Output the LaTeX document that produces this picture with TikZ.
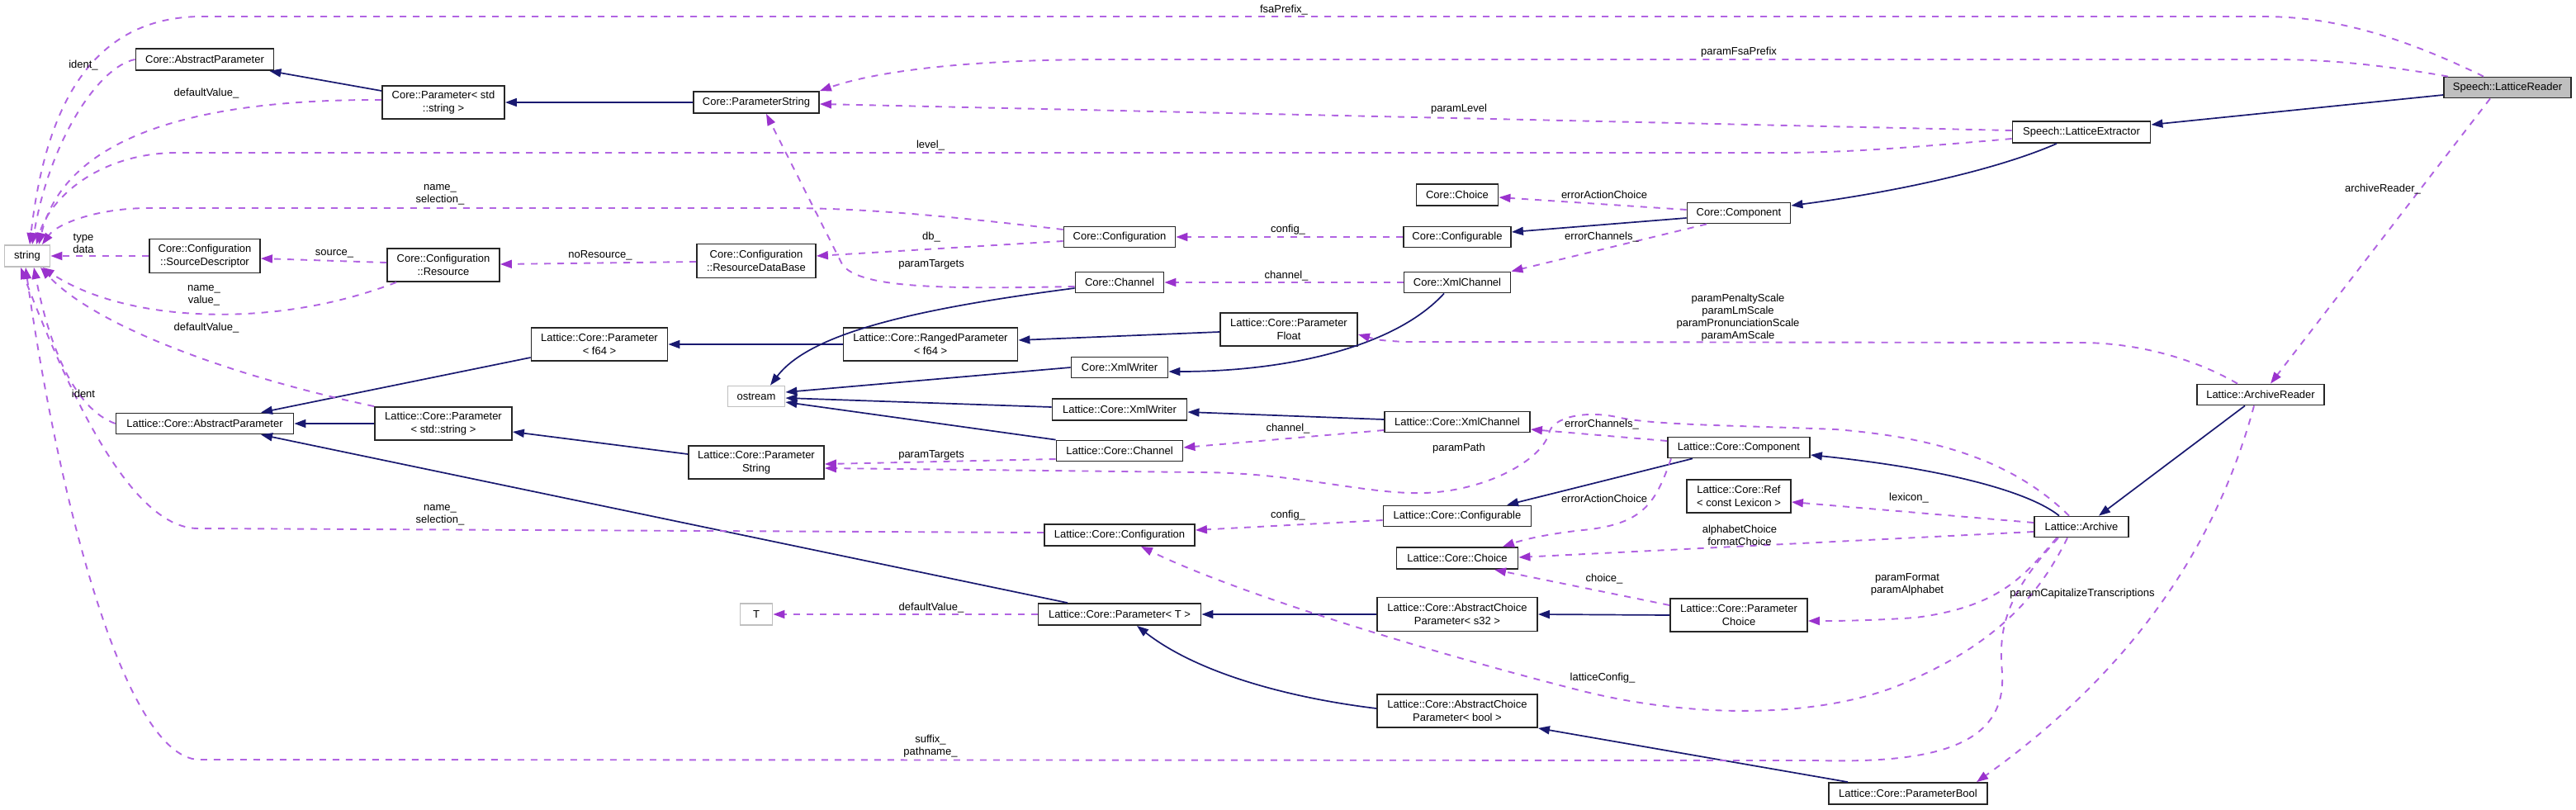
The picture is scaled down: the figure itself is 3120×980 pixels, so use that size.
\documentclass[tikz,border=0pt]{standalone}
\usepackage{fontspec}
\setmainfont{Liberation Sans}
\usetikzlibrary{arrows.meta}
\definecolor{inhc}{HTML}{191970}
\definecolor{usec}{HTML}{9A32CD}
\definecolor{usel}{HTML}{B164E2}
\definecolor{grayb}{HTML}{BFBFBF}
\begin{document}
\begin{tikzpicture}[x=1pt,y=-1pt,
 cls/.style={draw=black!85, line width=1.8pt, fill=white, inner sep=0pt, align=center, font=\fontsize{13}{15.5}\selectfont},
 ext/.style={cls, draw=grayb},
 cur/.style={cls, fill=grayb},
 lbl/.style={inner sep=0pt, align=center, font=\fontsize{13}{15}\selectfont},
 inh/.style={draw=inhc, line width=1.7pt, -{Triangle[length=14pt,width=10pt]}},
 use/.style={draw=usel, line width=1.9pt, dash pattern=on 8pt off 8pt, -{Triangle[length=14pt,width=10pt,color=usec]}},
]
\fill[white] (0,0) rectangle (3120,980);
\useasboundingbox (0,0) rectangle (3120,980);

% ---------- nodes ----------
\node[ext, minimum width=55, minimum height=26] (str) at (33,310) {string};
\node[cls, minimum width=167, minimum height=26] (cap) at (248,72) {Core::AbstractParameter};
\node[cls, minimum width=148, minimum height=40] (cps) at (537,124) {Core::Parameter< std\\::string >};
\node[cls, minimum width=134, minimum height=41] (csd) at (248,310) {Core::Configuration\\::SourceDescriptor};
\node[cls, minimum width=136, minimum height=40] (cres) at (537,321) {Core::Configuration\\::Resource};
\node[cls, minimum width=152, minimum height=26] (cpstr) at (916,124) {Core::ParameterString};
\node[cls, minimum width=144, minimum height=41] (crdb) at (916,316) {Core::Configuration\\::ResourceDataBase};
\node[cls, minimum width=135, minimum height=25] (cconf) at (1356,287) {Core::Configuration};
\node[cls, minimum width=107, minimum height=25] (cchan) at (1356,342) {Core::Channel};
\node[cls, minimum width=211, minimum height=40] (lrp) at (1127,417) {Lattice::Core::RangedParameter\\< f64 >};
\node[cls, minimum width=165, minimum height=40] (lpf64) at (726,417) {Lattice::Core::Parameter\\< f64 >};
\node[cls, minimum width=166, minimum height=40] (lpfl) at (1561,399) {Lattice::Core::Parameter\\Float};
\node[cls, minimum width=117, minimum height=25] (cxw) at (1356,445) {Core::XmlWriter};
\node[ext, minimum width=69, minimum height=25] (ost) at (916,480) {ostream};
\node[cls, minimum width=163, minimum height=26] (lxw) at (1356,496) {Lattice::Core::XmlWriter};
\node[cls, minimum width=99, minimum height=26] (cchoice) at (1765,236) {Core::Choice};
\node[cls, minimum width=125, minimum height=25] (ccomp) at (2106,258) {Core::Component};
\node[cls, minimum width=130, minimum height=25] (ccfg) at (1765,287) {Core::Configurable};
\node[cls, minimum width=129, minimum height=25] (cxc) at (1765,342) {Core::XmlChannel};
\node[cur, minimum width=154, minimum height=25] (slr) at (3037,106) {Speech::LatticeReader};
\node[cls, minimum width=167, minimum height=26] (sle) at (2521,160) {Speech::LatticeExtractor};
\node[cls, minimum width=154, minimum height=25] (lar) at (2738,478) {Lattice::ArchiveReader};
\node[cls, minimum width=215, minimum height=25] (lap) at (248,513) {Lattice::Core::AbstractParameter};
\node[cls, minimum width=166, minimum height=40] (lps) at (537,513) {Lattice::Core::Parameter\\< std::string >};
\node[cls, minimum width=153, minimum height=25] (lchan) at (1356,546) {Lattice::Core::Channel};
\node[cls, minimum width=164, minimum height=40] (lpstr) at (916,560) {Lattice::Core::Parameter\\String};
\node[cls, minimum width=182, minimum height=26] (lconf) at (1356,648) {Lattice::Core::Configuration};
\node[ext, minimum width=39, minimum height=26] (tt) at (916,744) {T};
\node[cls, minimum width=197, minimum height=26] (lpt) at (1356,744) {Lattice::Core::Parameter< T >};
\node[cls, minimum width=176, minimum height=25] (lxc) at (1765,511) {Lattice::Core::XmlChannel};
\node[cls, minimum width=172, minimum height=25] (lcomp) at (2106,542) {Lattice::Core::Component};
\node[cls, minimum width=126, minimum height=40] (lref) at (2106,601) {Lattice::Core::Ref\\< const Lexicon >};
\node[cls, minimum width=179, minimum height=25] (lcfg) at (1765,625) {Lattice::Core::Configurable};
\node[cls, minimum width=147, minimum height=26] (lchoice) at (1765,676) {Lattice::Core::Choice};
\node[cls, minimum width=194, minimum height=41] (lacs) at (1765,744) {Lattice::Core::AbstractChoice\\Parameter< s32 >};
\node[cls, minimum width=166, minimum height=40] (lpc) at (2106,745) {Lattice::Core::Parameter\\Choice};
\node[cls, minimum width=194, minimum height=40] (lacb) at (1765,861) {Lattice::Core::AbstractChoice\\Parameter< bool >};
\node[cls, minimum width=192, minimum height=26] (lpb) at (2311,961) {Lattice::Core::ParameterBool};
\node[cls, minimum width=114, minimum height=25] (larc) at (2521,638) {Lattice::Archive};

% ---------- inheritance edges ----------
\draw[inh] (cps.west |- 0,110) -- ([xshift=-6pt]cap.south east);
\draw[inh] (cpstr.west) -- (cps.east);
\draw[inh] (slr.west |- 0,115) -- (sle.east |- 0,151);
\draw[inh] ([xshift=-30pt]sle.south) .. controls (2420,205) and (2300,232) .. (ccomp.east |- 0,249);
\draw[inh] (ccomp.west |- 0,264) -- (ccfg.east |- 0,281);
\draw[inh] ([xshift=-16pt]cxc.south) .. controls (1690,420) and (1560,450) .. (cxw.east |- 0,450);
\draw[inh] (cchan.west |- 0,349) .. controls (1100,375) and (980,405) .. ([xshift=17pt]ost.north);
\draw[inh] (cxw.west) -- (ost.east |- 0,475);
\draw[inh] (lxw.west |- 0,493) -- (ost.east |- 0,482);
\draw[inh] (lchan.north west) -- (ost.east |- 0,487);
\draw[inh] (lrp.west) -- (lpf64.east);
\draw[inh] (lpfl.west |- 0,402) -- (lrp.east |- 0,412);
\draw[inh] (lpf64.west |- 0,433) -- ([xshift=68pt]lap.north);
\draw[inh] (lps.west) -- (lap.east);
\draw[inh] ([xshift=-63pt]lpt.north) -- ([xshift=68pt]lap.south);
\draw[inh] (lpstr.west |- 0,550) -- (lps.east |- 0,523);
\draw[inh] (lxc.west |- 0,508) -- (lxw.east |- 0,499);
\draw[inh] ([xshift=-56pt]lcomp.south) -- ([xshift=60pt]lcfg.north);
\draw[inh] ([xshift=-27pt]larc.north) .. controls (2450,590) and (2330,565) .. (lcomp.east |- 0,551);
\draw[inh] ([xshift=-19pt]lar.south) -- ([xshift=21pt]larc.north);
\draw[inh] (lacs.west) -- (lpt.east);
\draw[inh] (lpc.west) -- (lacs.east);
\draw[inh] (lacb.west |- 0,858) .. controls (1560,845) and (1450,815) .. ([xshift=21pt]lpt.south);
\draw[inh] ([xshift=-73pt]lpb.north) -- (lacb.south east);

% ---------- usage edges ----------
\draw[use] ([xshift=-29pt]slr.north) .. controls (2900,40) and (2820,20) .. (2740,20) -- (245,20) .. controls (110,20) and (55,130) .. ([xshift=3pt]str.north);
\draw[use] ([xshift=-72pt]slr.north) .. controls (2880,78) and (2820,72) .. (2750,72) -- (1340,72) .. controls (1150,72) and (1050,90) .. (cpstr.north east);
\draw[use] (sle.west |- 0,158) -- (cpstr.east |- 0,126);
\draw[use] (sle.west |- 0,168) .. controls (2300,180) and (2230,185) .. (2150,185) -- (215,185) .. controls (120,185) and (60,240) .. ([xshift=11pt]str.north);
\draw[use] (cap.west) .. controls (120,80) and (60,170) .. ([xshift=6pt]str.north);
\draw[use] (cps.west |- 0,121) .. controls (250,120) and (80,160) .. ([xshift=14pt]str.north);
\draw[use] (cconf.west |- 0,278) .. controls (1150,262) and (1050,252) .. (950,252) -- (180,252) .. controls (120,252) and (70,270) .. ([xshift=18pt]str.north);
\draw[use] (csd.west) -- (str.east);
\draw[use] (cres.west |- 0,318) -- (csd.east |- 0,313);
\draw[use] ([xshift=-57pt]cres.south) .. controls (330,400) and (150,390) .. ([xshift=-10pt]str.south east);
\draw[use] (crdb.west |- 0,317) -- (cres.east |- 0,320);
\draw[use] (cconf.west |- 0,292) -- (crdb.east |- 0,310);
\draw[use] (cchan.west |- 0,347) .. controls (1150,350) and (1040,350) .. (1020,320) -- ([xshift=12pt]cpstr.south);
\draw[use] (ccfg.west) -- (cconf.east);
\draw[use] (cxc.west) -- (cchan.east);
\draw[use] (ccomp.west |- 0,254) -- (cchoice.east |- 0,239);
\draw[use] ([xshift=-39pt]ccomp.south) -- (cxc.north east);
\draw[use] ([xshift=-28pt]lar.north) .. controls (2650,430) and (2580,415) .. (2520,415) -- (1700,414) .. controls (1670,412) .. (lpfl.east |- 0,405);
\draw[use] ([xshift=-21pt]slr.south) -- ([xshift=12pt]lar.north);
\draw[use] (lconf.west |- 0,645) -- (240,640) .. controls (170,640) and (100,520) .. ([xshift=-8pt]str.south);
\draw[use] (lap.west) .. controls (90,495) and (60,420) .. ([xshift=8pt]str.south);
\draw[use] (lps.north west) .. controls (300,460) and (120,400) .. ([xshift=16pt]str.south);
\draw[use] ([xshift=-28pt]larc.south) .. controls (2430,720) and (2420,760) .. (2425,815) .. controls (2430,900) and (2350,925) .. (2200,921) -- (240,920) .. controls (150,915) and (70,600) .. ([xshift=-2pt]str.south);
\draw[use] (lchan.west |- 0,556) -- (lpstr.east |- 0,562);
\draw[use] ([xshift=-15pt]larc.north) .. controls (2440,560) and (2350,530) .. (2223,520) .. controls (2100,515) and (2000,515) .. (1958,505) .. controls (1920,497) and (1880,505) .. (1876,525) .. controls (1866,560) and (1790,600) .. (1708,597) .. controls (1640,595) and (1560,572) .. (1450,572) -- (lpstr.east |- 0,567);
\draw[use] (lxc.west |- 0,521) -- (lchan.east |- 0,542);
\draw[use] (lcomp.west |- 0,534) -- (lxc.east |- 0,520);
\draw[use] (lcfg.west |- 0,630) -- (lconf.east |- 0,642);
\draw[use] ([xshift=-82pt]lcomp.south) .. controls (2005,610) and (1990,635) .. (1917,642) .. controls (1880,646) and (1850,652) .. ([xshift=55pt]lchoice.north);
\draw[use] (larc.west |- 0,633) -- (lref.east |- 0,608);
\draw[use] (larc.west |- 0,644) -- (lchoice.east |- 0,675);
\draw[use] (lpc.west |- 0,733) -- ([xshift=45pt]lchoice.south);
\draw[use] ([xshift=-30pt]larc.south) .. controls (2450,700) and (2420,735) .. (2320,748) .. controls (2260,752) and (2220,752) .. (lpc.east |- 0,752);
\draw[use] ([xshift=-17pt]larc.south) .. controls (2470,720) and (2420,780) .. (2300,830) .. controls (2200,870) and (2050,870) .. (1917,837) .. controls (1750,795) and (1500,720) .. ([xshift=26pt]lconf.south);
\draw[use] ([xshift=-8pt]lar.south) .. controls (2690,640) and (2600,800) .. ([xshift=83pt]lpb.north);
\draw[use] (lpt.west) -- (tt.east);

% ---------- labels ----------
\node[lbl] (l1) at (1555,12) {fsaPrefix\_};
\node[lbl] (l2) at (2106,63) {paramFsaPrefix};
\node[lbl] (l3) at (1767,132) {paramLevel};
\node[lbl] (l4) at (1127,176) {level\_};
\node[lbl] (l5) at (101,79) {ident\_};
\node[lbl] (l6) at (250,113) {defaultValue\_};
\node[lbl] (l7) at (533,236) {name\_\\selection\_};
\node[lbl] (l8) at (101,295) {type\\data};
\node[lbl] (l9) at (405,307) {source\_};
\node[lbl] (l10) at (727,309) {noResource\_};
\node[lbl] (l11) at (247,358) {name\_\\value\_};
\node[lbl] (l12) at (250,397) {defaultValue\_};
\node[lbl] (l13) at (101,477) {ident};
\node[lbl] (l14) at (1128,287) {db\_};
\node[lbl] (l15) at (1128,320) {paramTargets};
\node[lbl] (l16) at (1560,278) {config\_};
\node[lbl] (l17) at (1558,334) {channel\_};
\node[lbl] (l18) at (1943,236) {errorActionChoice};
\node[lbl] (l19) at (1940,287) {errorChannels\_};
\node[lbl] (l20) at (2105,385) {paramPenaltyScale\\paramLmScale\\paramPronunciationScale\\paramAmScale};
\node[lbl] (l21) at (2886,229) {archiveReader\_};
\node[lbl] (l22) at (533,624) {name\_\\selection\_};
\node[lbl] (l23) at (1128,551) {paramTargets};
\node[lbl] (l24) at (1560,624) {config\_};
\node[lbl] (l25) at (1128,736) {defaultValue\_};
\node[lbl] (l26) at (1127,904) {suffix\_\\pathname\_};
\node[lbl] (l27) at (1940,514) {errorChannels\_};
\node[lbl] (l28) at (1767,543) {paramPath};
\node[lbl] (l29) at (1943,604) {errorActionChoice};
\node[lbl] (l30) at (2312,603) {lexicon\_};
\node[lbl] (l31) at (2107,648) {alphabetChoice\\formatChoice};
\node[lbl] (l32) at (1943,701) {choice\_};
\node[lbl] (l33) at (2310,708) {paramFormat\\paramAlphabet};
\node[lbl] (l34) at (1941,821) {latticeConfig\_};
\node[lbl] (l35) at (2522,719) {paramCapitalizeTranscriptions};
\node[lbl] (l36) at (1560,519) {channel\_};
\end{tikzpicture}
\end{document}
